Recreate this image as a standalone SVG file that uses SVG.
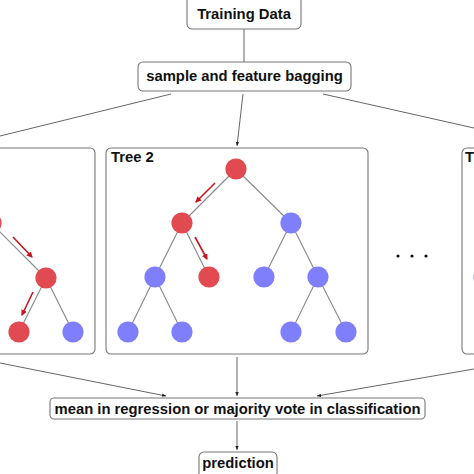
<svg xmlns="http://www.w3.org/2000/svg" width="474" height="474" viewBox="0 0 474 474">
<defs>
<marker id="ah" viewBox="0 0 6 6" refX="6" refY="3" markerWidth="4" markerHeight="4" orient="auto" markerUnits="userSpaceOnUse"><path d="M0,0.5 L6,3 L0,5.5 z" fill="#222"/></marker>
<marker id="rh" viewBox="0 0 6 6" refX="5" refY="3" markerWidth="6" markerHeight="6" orient="auto" markerUnits="userSpaceOnUse"><path d="M0,0 L6,3 L0,6 z" fill="#c8151d"/></marker>
<style>
.box{fill:#fff;stroke:#777;stroke-width:1.1}
.lbl{font-family:"Liberation Sans",Arial,sans-serif;font-weight:bold;font-size:14.8px;fill:#111}
.con{stroke:#666;stroke-width:1;fill:none}
.edge{stroke:#888;stroke-width:1.1}
.red{fill:#e04a50}
.blue{fill:#7f7ffc}
.ra{stroke:#c8151d;stroke-width:1.6;marker-end:url(#rh)}
</style>
</defs>
<rect width="474" height="474" fill="#fff"/>
<g id="connectors">
<line class="con" x1="244" y1="29" x2="244" y2="62"/>
<line class="con" x1="171" y1="94" x2="0" y2="136"/>
<line class="con" x1="243" y1="94" x2="237" y2="146" marker-end="url(#ah)"/>
<line class="con" x1="323" y1="94" x2="474" y2="128"/>
<line class="con" x1="0" y1="363" x2="166" y2="396" marker-end="url(#ah)"/>
<line class="con" x1="237" y1="357" x2="237" y2="396" marker-end="url(#ah)"/>
<line class="con" x1="474" y1="369" x2="317" y2="396" marker-end="url(#ah)"/>
<line class="con" x1="237" y1="421" x2="237" y2="450" marker-end="url(#ah)"/>
</g>
<g id="training-data">
<rect class="box" x="187" y="-5" width="114" height="34" rx="5"/>
<text class="lbl" x="244" y="19" text-anchor="middle">Training Data</text>
</g>
<g id="bagging">
<rect class="box" x="138" y="62" width="213" height="29" rx="5"/>
<text class="lbl" x="244.5" y="81" text-anchor="middle">sample and feature bagging</text>
</g>
<g id="tree1">
<rect class="box" x="-170" y="148" width="265" height="206" rx="5"/>
<line class="edge" x1="-9" y1="223" x2="46" y2="278"/>
<line class="edge" x1="46" y1="278" x2="19" y2="332"/>
<line class="edge" x1="46" y1="278" x2="73" y2="332"/>
<circle class="red" cx="-9" cy="223" r="10.6"/>
<circle class="red" cx="46" cy="278" r="10.6"/>
<circle class="red" cx="19" cy="332" r="10.6"/>
<circle class="blue" cx="73" cy="332" r="10.6"/>
<line class="ra" x1="13" y1="237" x2="32" y2="257"/>
<line class="ra" x1="33" y1="292" x2="22" y2="315"/>
</g>
<g id="tree2">
<rect class="box" x="106" y="148" width="262" height="206" rx="5"/>
<text class="lbl" x="111" y="162">Tree 2</text>
<line class="edge" x1="236" y1="169" x2="182" y2="223"/>
<line class="edge" x1="236" y1="169" x2="291" y2="223"/>
<line class="edge" x1="182" y1="223" x2="155" y2="277"/>
<line class="edge" x1="182" y1="223" x2="209" y2="277"/>
<line class="edge" x1="155" y1="277" x2="128" y2="332"/>
<line class="edge" x1="155" y1="277" x2="182" y2="332"/>
<line class="edge" x1="291" y1="223" x2="264" y2="277"/>
<line class="edge" x1="291" y1="223" x2="318" y2="277"/>
<line class="edge" x1="318" y1="277" x2="291" y2="332"/>
<line class="edge" x1="318" y1="277" x2="346" y2="332"/>
<circle class="red" cx="236" cy="169" r="10.6"/>
<circle class="red" cx="182" cy="223" r="10.6"/>
<circle class="blue" cx="291" cy="223" r="10.6"/>
<circle class="blue" cx="155" cy="277" r="10.6"/>
<circle class="red" cx="209" cy="277" r="10.6"/>
<circle class="blue" cx="264" cy="277" r="10.6"/>
<circle class="blue" cx="318" cy="277" r="10.6"/>
<circle class="blue" cx="128" cy="332" r="10.6"/>
<circle class="blue" cx="182" cy="332" r="10.6"/>
<circle class="blue" cx="291" cy="332" r="10.6"/>
<circle class="blue" cx="346" cy="332" r="10.6"/>
<line class="ra" x1="215" y1="183" x2="196" y2="202"/>
<line class="ra" x1="195" y1="237" x2="207" y2="259"/>
</g>
<g id="ellipsis">
<circle cx="398" cy="256" r="1.6" fill="#111"/>
<circle cx="412" cy="256" r="1.6" fill="#111"/>
<circle cx="426" cy="256" r="1.6" fill="#111"/>
</g>
<g id="tree3">
<rect class="box" x="462" y="148" width="200" height="206" rx="5"/>
<text class="lbl" x="465" y="162">T</text>
<circle class="blue" cx="484" cy="277" r="10.6"/>
</g>
<g id="aggregate">
<rect class="box" x="50" y="398" width="375" height="21" rx="4"/>
<text class="lbl" x="237.5" y="413.5" text-anchor="middle">mean in regression or majority vote in classification</text>
</g>
<g id="prediction">
<rect class="box" x="199" y="452" width="78" height="30" rx="5"/>
<text class="lbl" x="238" y="467.5" text-anchor="middle">prediction</text>
</g>
</svg>
